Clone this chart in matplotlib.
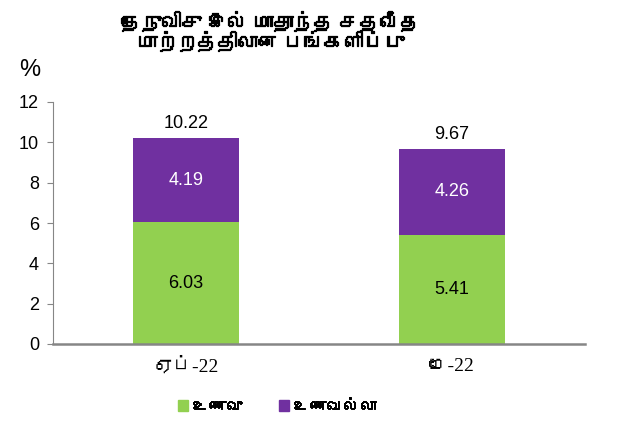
import matplotlib
matplotlib.use("Agg")
import matplotlib.pyplot as plt
from matplotlib import font_manager
from matplotlib.patches import Patch
import matplotlib.patheffects as pe

# ---- data ----
categories = ["ஏப்-22", "மே-22"]
food = [6.03, 5.41]
nonfood = [4.19, 4.26]
totals = [10.22, 9.67]
series_names = ["உணவு", "உணவல்லா"]
title_text = "தேநுவிசு இல் மாதாந்த சதவீத\nமாற்றத்திலான பங்களிப்பு"
yticks = [0, 2, 4, 6, 8, 10, 12]

# find fonts that contain Tamil glyphs
tamil_fams = []
try:
    from fontTools.ttLib import TTFont
    for f in font_manager.fontManager.ttflist:
        try:
            tt = TTFont(f.fname, fontNumber=0, lazy=True)
            cmap = tt.getBestCmap()
            if cmap and 0x0BA4 in cmap and f.name not in tamil_fams:
                tamil_fams.append(f.name)
        except Exception:
            pass
except Exception:
    pass

sans = ["Liberation Sans"] + tamil_fams + ["DejaVu Sans"]
serif = ["Liberation Serif"] + tamil_fams + ["DejaVu Sans"]
plt.rcParams['font.family'] = sans

GREEN = "#92D050"
PURPLE = "#7030A0"
GRAY = "#868686"
bold_fx = [pe.withStroke(linewidth=0.9, foreground="black")]

fig = plt.figure(figsize=(6.36, 4.28), dpi=100)
W, H = 636, 428
ax = fig.add_axes([53 / W, (H - 344) / H, (585 - 53) / W, (344 - 102) / H])

x = list(range(len(categories)))
ax.bar(x, food, width=0.4, color=GREEN, zorder=2)
ax.bar(x, nonfood, width=0.4, bottom=food, color=PURPLE, zorder=2)

for i in x:
    ax.text(i, food[i] / 2, f"{food[i]:.2f}", ha="center", va="center",
            fontsize=13, color="black", family=sans)
    ax.text(i, food[i] + nonfood[i] / 2, f"{nonfood[i]:.2f}", ha="center",
            va="center", fontsize=13, color="white", family=sans)
    ax.text(i, totals[i] + 0.3, f"{totals[i]:.2f}", ha="center", va="bottom",
            fontsize=13, color="black", family=sans)

ax.set_xlim(-0.5, 1.5)
ax.set_ylim(0, 12)
ax.set_yticks(yticks)
ax.set_yticklabels([str(t) for t in yticks], fontsize=13, family=sans)
ax.set_xticks(x)
ax.set_xticklabels(categories, fontsize=14, family=serif)
ax.tick_params(axis="x", length=0, pad=10)
ax.tick_params(axis="y", length=4, color=GRAY, pad=6)
for s in ["top", "right"]:
    ax.spines[s].set_visible(False)
ax.spines["left"].set_color(GRAY)
ax.spines["bottom"].set_color(GRAY)
ax.spines["bottom"].set_linewidth(1.8)

fig.text(30 / W, 1 - 70 / H, "%", ha="center", va="center", fontsize=17, family=sans)
fig.text(270 / W, 1 - 32 / H, title_text, ha="center", va="center",
         fontsize=14.5, fontweight="bold", family=sans, linespacing=0.95,
         path_effects=bold_fx)

handles = [Patch(color=GREEN), Patch(color=PURPLE)]
leg = fig.legend(handles, series_names, loc="center", bbox_to_anchor=(277 / W, 1 - 407 / H),
                 ncol=2, frameon=False, handlelength=0.6, handleheight=0.6,
                 handletextpad=0.25, columnspacing=2.2,
                 prop={"family": sans, "weight": "bold", "size": 12})
for t in leg.get_texts():
    t.set_path_effects([pe.withStroke(linewidth=0.7, foreground="black")])

fig.savefig("out.png", dpi=100)
